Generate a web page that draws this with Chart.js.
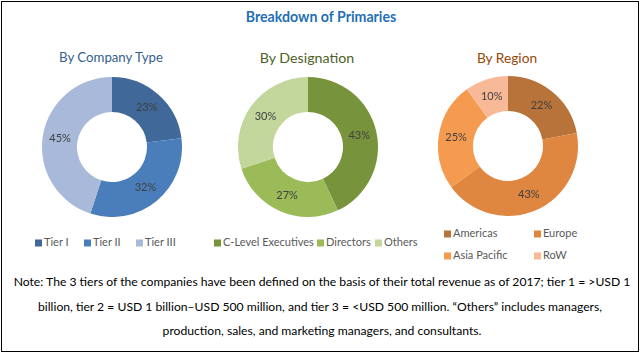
<!DOCTYPE html>
<html><head><meta charset="utf-8">
<script src="https://cdn.jsdelivr.net/npm/chart.js@4/dist/chart.umd.min.js"></script>
<style>
html,body{margin:0;padding:0;background:#fff;width:640px;height:354px;overflow:hidden;font-family:Lato,"Open Sans",sans-serif;}
#frame{position:absolute;left:1px;top:1px;width:636px;height:349px;border:1px solid #000;}
.t{position:absolute;white-space:nowrap;transform:translate(-50%,-50%);line-height:1;}
canvas{position:absolute;}
.leg{position:absolute;white-space:nowrap;color:#595959;line-height:1;transform:translateY(-50%);}
.sw{display:inline-block;width:7px;height:7px;margin-right:2px;vertical-align:middle;position:relative;top:-1px}
</style></head>
<body>
<div id="frame"></div>
<div id="title" class="t" style="left:321px;top:17px;color:#1f6fb4;font-weight:bold">Breakdown of Primaries</div>
<div id="s1" class="t" style="left:111px;top:58px;color:#335f8f">By Company Type</div>
<div id="s2" class="t" style="left:307px;top:58px;color:#4f6228">By Designation</div>
<div id="s3" class="t" style="left:507px;top:58px;color:#984807">By Region</div>
<canvas id="c1" width="140" height="140" style="left:42px;top:77px"></canvas>
<canvas id="c2" width="140" height="140" style="left:238px;top:77px"></canvas>
<canvas id="c3" width="140" height="140" style="left:438px;top:76px"></canvas>
<div id="n1" class="t" style="left:322px;top:282px;color:#000"></div>
<div id="n2" class="t" style="left:320px;top:307px;color:#000"></div>
<div id="n3" class="t" style="left:322px;top:331px;color:#000"></div>
<div id="legends"></div>
<script>
// ---- data ----
const companyLabels = ['Tier I', 'Tier II', 'Tier III'];
const companyValues = [23, 32, 45];
const designationLabels = ['C-Level Executives', 'Directors', 'Others'];
const designationValues = [43, 27, 30];
const regionLabels = ['Americas', 'Europe', 'Asia Pacific', 'RoW'];
const regionValues = [22, 43, 25, 10];
const noteLines = [
  'Note: The 3 tiers of the companies have been defined on the basis of their total revenue as of 2017; tier 1 = >USD 1',
  'billion, tier 2 = USD 1 billion\u2013USD 500 million, and tier 3 = <USD 500 million. \u201cOthers\u201d includes managers,',
  'production, sales, and marketing managers, and consultants.'
];

// ---- styles ----
const companyColors = ['#406898', '#4a7ebb', '#a8b9d9'];
const designationColors = ['#77933c', '#9bbb59', '#c3d69b'];
const regionColors = ['#b8733a', '#df8640', '#f49b50', '#f8b998'];

const mctx = document.createElement('canvas').getContext('2d');
function fit(el, target, weight) {
  mctx.font = (weight || '') + ' 20px Lato';
  const w = mctx.measureText(el.textContent).width;
  const size = 20 * target / w;
  el.style.fontSize = size + 'px';
  return size;
}
document.getElementById('n1').textContent = noteLines[0];
document.getElementById('n2').textContent = noteLines[1];
document.getElementById('n3').textContent = noteLines[2];
fit(document.getElementById('title'), 151, 'bold');
const a = fit(document.getElementById('s1'), 105);
const b = fit(document.getElementById('s2'), 95);
document.getElementById('s3').style.fontSize = ((a + b) / 2) + 'px';
const ns = fit(document.getElementById('n1'), 619);
document.getElementById('n2').style.fontSize = ns + 'px';
document.getElementById('n3').style.fontSize = ns + 'px';

// legend size fitted from the longest label
mctx.font = '20px Lato';
const legSize = 20 * 91 / mctx.measureText('C-Level Executives').width;

const legendLayout = [
  {labels: companyLabels, colors: companyColors, pos: [[35,242],[84,242],[136,242]]},
  {labels: designationLabels, colors: designationColors, pos: [[214,242],[317,242],[375,242]]},
  {labels: regionLabels, colors: regionColors, pos: [[444,233],[534,233],[444,255],[534,255]]}
];
const legRoot = document.getElementById('legends');
legendLayout.forEach(g => {
  g.labels.forEach((lab, i) => {
    const d = document.createElement('div');
    d.className = 'leg';
    d.style.left = g.pos[i][0] + 'px';
    d.style.top = g.pos[i][1] + 'px';
    d.style.fontSize = legSize + 'px';
    d.innerHTML = '<span class="sw" style="background:' + g.colors[i] + '"></span>' + lab;
    legRoot.appendChild(d);
  });
});

const pctLabels = {
  id: 'pct',
  afterDatasetsDraw(chart) {
    const ctx = chart.ctx;
    const ds = chart.data.datasets[0];
    chart.getDatasetMeta(0).data.forEach((arc, i) => {
      const p = arc.tooltipPosition();
      ctx.save();
      ctx.font = '11px Lato';
      ctx.fillStyle = '#404040';
      ctx.textAlign = 'center';
      ctx.textBaseline = 'middle';
      ctx.fillText(ds.data[i] + '%', p.x, p.y);
      ctx.restore();
    });
  }
};

function donut(id, labels, values, colors) {
  new Chart(document.getElementById(id), {
    type: 'doughnut',
    data: {labels: labels, datasets: [{data: values, backgroundColor: colors, borderWidth: 0}]},
    options: {
      responsive: false, animation: false, events: [],
      cutout: '50%',
      layout: {padding: 0},
      plugins: {legend: {display: false}, tooltip: {enabled: false}}
    },
    plugins: [pctLabels]
  });
}
donut('c1', companyLabels, companyValues, companyColors);
donut('c2', designationLabels, designationValues, designationColors);
donut('c3', regionLabels, regionValues, regionColors);
</script>
</body></html>
